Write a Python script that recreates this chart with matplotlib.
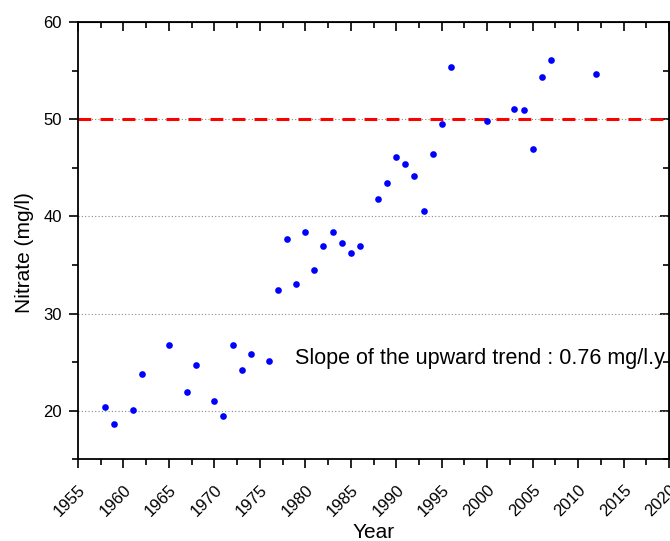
import matplotlib
matplotlib.use("Agg")
import matplotlib.pyplot as plt
from matplotlib.ticker import MultipleLocator

plt.rcParams["font.family"] = ["Liberation Sans", "DejaVu Sans"]

years = [1958, 1959, 1961, 1962, 1965, 1967, 1968, 1970, 1971, 1972,
         1973, 1974, 1976, 1977, 1978, 1979, 1980, 1981, 1982, 1983,
         1984, 1985, 1986, 1988, 1989, 1990, 1991, 1992, 1993, 1994,
         1995, 1996, 2000, 2003, 2004, 2005, 2006, 2007, 2012]
nitrate = [20.4, 18.6, 20.1, 23.8, 26.8, 21.95, 24.7, 21.0, 19.5, 26.8,
           24.2, 25.8, 25.1, 32.4, 37.7, 33.0, 38.4, 34.5, 36.9, 38.4,
           37.3, 36.2, 36.9, 41.8, 43.4, 46.1, 45.4, 44.2, 40.55, 46.4,
           49.55, 55.4, 49.85, 51.0, 50.9, 46.9, 54.3, 56.1, 54.6]

limit_value = 50
grid_levels = [20, 30, 40, 50]
x_ticks = list(range(1955, 2021, 5))
y_ticks = [20, 30, 40, 50, 60]
slope_text = "Slope of the upward trend : 0.76 mg/l.y"

fig = plt.figure(figsize=(6.7, 5.41), dpi=100)
ax = fig.add_axes([78 / 670, 1 - 459.3 / 541, 591 / 670, 437.3 / 541])

for lvl in grid_levels:
    ax.axhline(lvl, color="#888888", lw=0.8, ls=(0, (1, 2)), zorder=1)

ax.axhline(limit_value, color="#ff0000", lw=2.2, ls=(0, (4.2, 3)), zorder=2)

ax.plot(years, nitrate, "o", color="#0000ff", markersize=4.8,
        markeredgewidth=0, zorder=3)

ax.set_xlim(1955, 2020)
ax.set_ylim(15, 60)
ax.set_xticks(x_ticks)
ax.set_yticks(y_ticks)
ax.xaxis.set_minor_locator(MultipleLocator(2.5))
ax.yaxis.set_minor_locator(MultipleLocator(5))

for side in ["left", "right", "top", "bottom"]:
    ax.spines[side].set_linewidth(1.3)

ax.tick_params(which="major", length=6.5, width=1.2, labelsize=12, pad=5)
ax.tick_params(which="minor", length=4, width=1.2)
ax.tick_params(axis="x", which="both", direction="out", top=False)
ax.tick_params(axis="x", which="major", pad=10)
ax.tick_params(axis="y", which="both", direction="out", right=False)

# inward ticks on top / right, like Origin
secx = ax.secondary_xaxis("top")
secx.set_xticks(x_ticks)
secx.xaxis.set_minor_locator(MultipleLocator(2.5))
secx.tick_params(which="major", direction="in", length=6.5, width=1.2,
                 labeltop=False)
secx.tick_params(which="minor", direction="in", length=4, width=1.2)
secy = ax.secondary_yaxis("right")
secy.set_yticks(y_ticks)
secy.yaxis.set_minor_locator(MultipleLocator(5))
secy.tick_params(which="major", direction="in", length=6.5, width=1.2,
                 labelright=False)
secy.tick_params(which="minor", direction="in", length=4, width=1.2)

for lab in ax.get_xticklabels():
    lab.set_rotation(45)
    lab.set_ha("right")
    lab.set_rotation_mode("anchor")

ax.set_xlabel("Year", fontsize=15, va="center")
ax.xaxis.set_label_coords(0.5, -0.1685)
ax.set_ylabel("Nitrate (mg/l)", fontsize=15, va="center")
ax.yaxis.set_label_coords(-0.09, 0.472)

ax.text(1978.87, 25.4, slope_text, fontsize=15.5, va="center", ha="left",
        clip_on=False)

fig.savefig("out.png", dpi=100)
